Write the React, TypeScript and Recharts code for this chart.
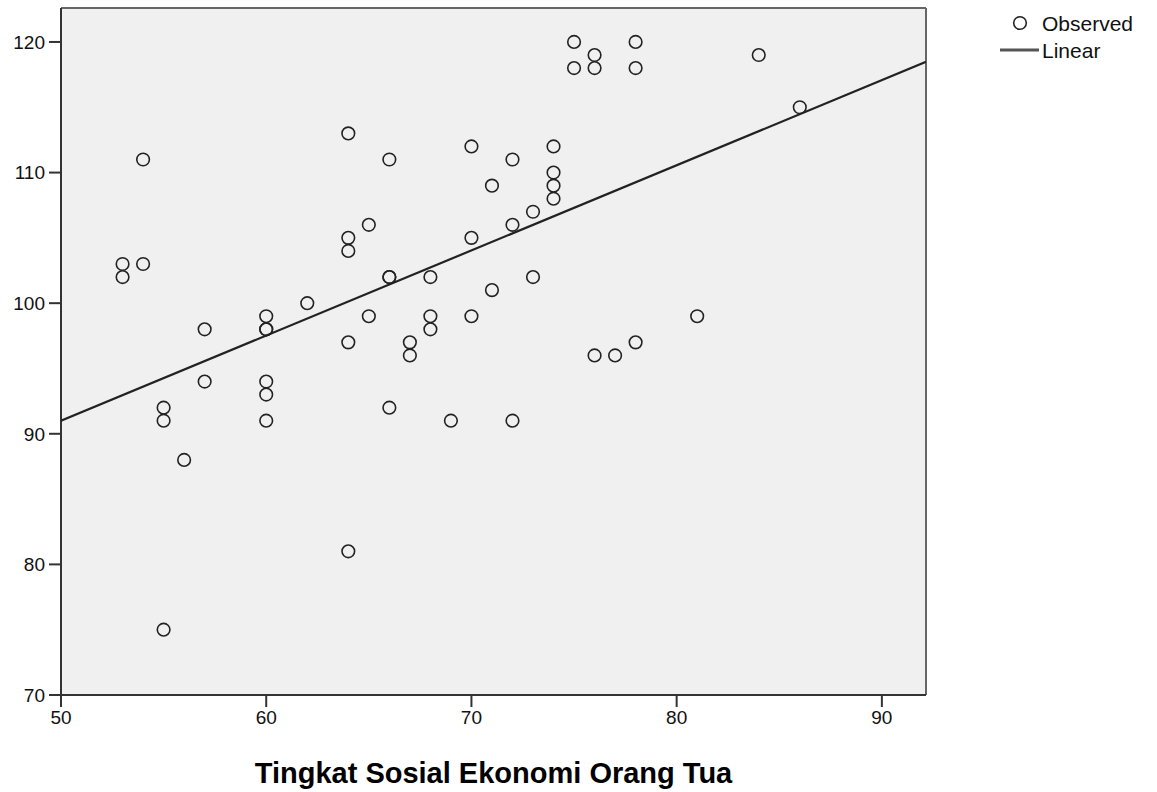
import {
  ComposedChart,
  Scatter,
  XAxis,
  YAxis,
  ReferenceArea,
  ReferenceLine,
  Label,
} from "recharts";

// Tingkat Sosial Ekonomi Orang Tua (x) vs observed score (y)
const socioEconomic = [
  53, 53, 54, 54, 55, 55, 55, 56, 57, 57,
  60, 60, 60, 60, 60, 60, 62, 64, 64, 64,
  64, 64, 65, 65, 66, 66, 66, 66, 67, 67,
  68, 68, 68, 69, 70, 70, 70, 71, 71, 72,
  72, 72, 73, 73, 74, 74, 74, 74, 75, 75,
  76, 76, 76, 77, 78, 78, 78, 81, 84, 86,
];
const observedScore = [
  103, 102, 111, 103, 92, 91, 75, 88, 98, 94,
  99, 98, 98, 94, 93, 91, 100, 113, 105, 104,
  97, 81, 106, 99, 111, 102, 102, 92, 97, 96,
  102, 99, 98, 91, 112, 105, 99, 109, 101, 111,
  106, 91, 107, 102, 112, 110, 109, 108, 120, 118,
  119, 118, 96, 96, 120, 118, 97, 99, 119, 115,
];

// linear fit
const fitIntercept = 58.4;
const fitSlope = 0.652;

const xTicks = [50, 60, 70, 80, 90];
const yTicks = [70, 80, 90, 100, 110, 120];
const xDomain = [50, 92.15];
const yDomain = [70, 122.6];

const points = socioEconomic.map((x, i) => ({ x, y: observedScore[i] }));
const fitLine = xDomain.map((x) => ({ x, y: fitIntercept + fitSlope * x }));

const FONT = "'Liberation Sans', Arial, sans-serif";

function OpenCircle(props: { cx?: number; cy?: number }) {
  if (props.cx == null || props.cy == null) return null;
  return <circle cx={props.cx} cy={props.cy} r={6.3} fill="none" stroke="#222" strokeWidth={1.6} />;
}

// legend sits outside the plot, top right, like the SPSS output
function LegendBox() {
  return (
    <svg
      width={160}
      height={60}
      style={{ position: "absolute", left: 995, top: 8, fontFamily: FONT }}
    >
      <circle cx={25} cy={15} r={6.3} fill="none" stroke="#222" strokeWidth={1.6} />
      <text x={47} y={15} dy="0.36em" fontSize={21} fill="#111">Observed</text>
      <line x1={5} x2={44} y1={42} y2={42} stroke="#555" strokeWidth={3} />
      <text x={47} y={42} dy="0.36em" fontSize={21} fill="#111">Linear</text>
    </svg>
  );
}

export default function App() {
  return (
    <div style={{ position: "absolute", left: 0, top: 0, width: 1157, height: 792, background: "#fff" }}>
      <ComposedChart
        width={1157}
        height={792}
        margin={{ top: 8, right: 231, bottom: 0, left: 0 }}
        style={{ fontFamily: FONT }}
      >
        <ReferenceArea
          x1={xDomain[0]}
          x2={xDomain[1]}
          y1={yDomain[0]}
          y2={yDomain[1]}
          fill="#f0f0f0"
          fillOpacity={1}
          stroke="none"
          ifOverflow="hidden"
        />
        <ReferenceLine y={yDomain[1]} stroke="#666" strokeWidth={2} />
        <ReferenceLine x={xDomain[1]} stroke="#666" strokeWidth={2} />
        <XAxis
          type="number"
          dataKey="x"
          domain={xDomain}
          ticks={xTicks}
          allowDataOverflow
          height={97}
          tickSize={12}
          tickMargin={4}
          tick={{ fontSize: 19, fill: "#111", fontFamily: FONT }}
          axisLine={{ stroke: "#333", strokeWidth: 2 }}
          tickLine={{ stroke: "#333", strokeWidth: 2 }}
        >
          <Label
            value="Tingkat Sosial Ekonomi Orang Tua"
            position="insideBottom"
            offset={9}
            style={{ fontSize: 29, fontWeight: "bold", fill: "#000", fontFamily: FONT }}
          />
        </XAxis>
        <YAxis
          type="number"
          dataKey="y"
          domain={yDomain}
          ticks={yTicks}
          allowDataOverflow
          width={61}
          tickSize={12}
          tickMargin={4}
          tick={{ fontSize: 19, fill: "#111", fontFamily: FONT }}
          axisLine={{ stroke: "#333", strokeWidth: 2 }}
          tickLine={{ stroke: "#333", strokeWidth: 2 }}
        />
        <Scatter
          name="Linear"
          data={fitLine}
          line={{ stroke: "#222", strokeWidth: 2.2 }}
          shape={() => null}
          isAnimationActive={false}
        />
        <Scatter
          name="Observed"
          data={points}
          shape={(p: any) => <OpenCircle cx={p.cx} cy={p.cy} />}
          isAnimationActive={false}
        />
      </ComposedChart>
      <LegendBox />
    </div>
  );
}
